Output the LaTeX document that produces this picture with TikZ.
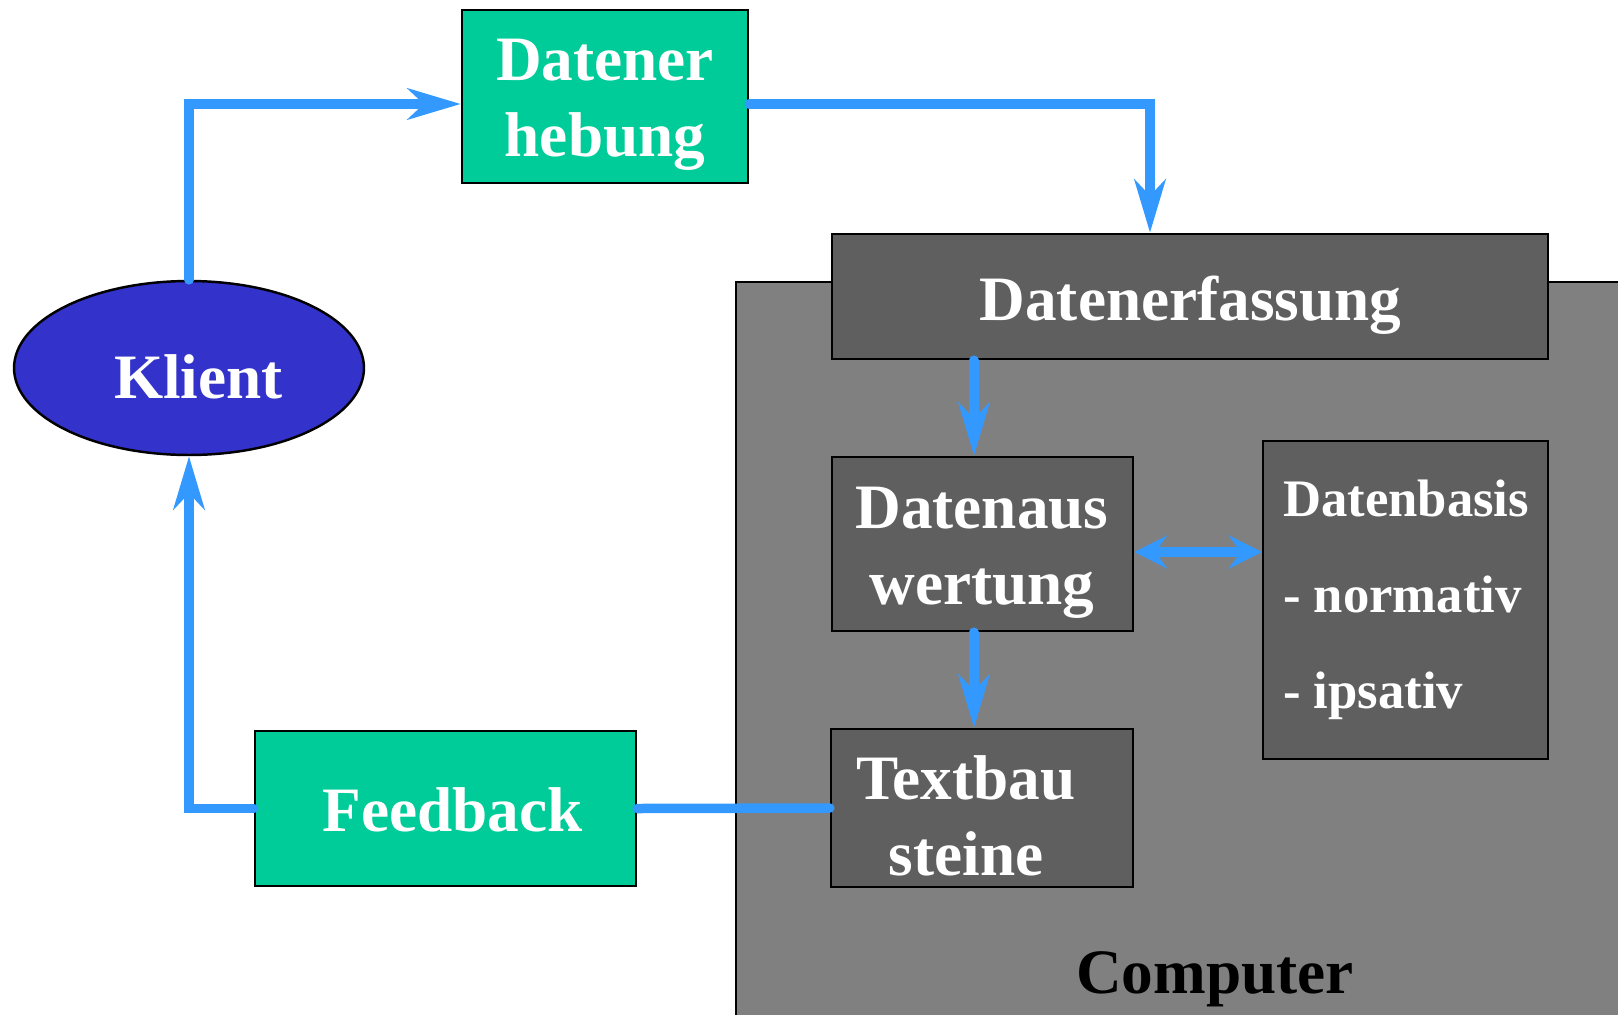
\documentclass[tikz,border=0pt]{standalone}
\usepackage{fontspec}
\setmainfont{Liberation Serif}
\usetikzlibrary{arrows.meta,shapes.geometric,calc}
\definecolor{boxgreen}{RGB}{0,204,153}
\definecolor{boxdark}{RGB}{95,95,95}
\definecolor{compgray}{RGB}{128,128,128}
\definecolor{klientblue}{RGB}{51,51,204}
\definecolor{flowblue}{RGB}{51,153,255}
\begin{document}
\begin{tikzpicture}[x=0.02cm, y=-0.02cm,
  flow/.style={draw=flowblue, line width=0.19cm, line cap=round},
  tipped/.style={-{Stealth[length=1.06cm,width=0.62cm,inset=0.32cm]}},
  bothtipped/.style={{Stealth[length=0.66cm,width=0.66cm,inset=0.24cm]}-{Stealth[length=0.66cm,width=0.66cm,inset=0.24cm]}},
  greenbox/.style={draw=black, line width=1.4pt, fill=boxgreen, inner sep=0pt},
  darkbox/.style={draw=black, line width=1.4pt, fill=boxdark, inner sep=0pt},
  compbox/.style={draw=black, line width=1.4pt, fill=compgray, inner sep=0pt},
  klientshape/.style={ellipse, draw=black, line width=1.4pt, fill=klientblue, inner sep=0pt},
  lbl/.style={text=white, font=\fontsize{36}{43.5}\selectfont\bfseries, inner sep=0pt, anchor=base},
  smalllbl/.style={text=white, font=\fontsize{30}{54.7}\selectfont\bfseries, inner sep=0pt, anchor=base west},
]
\path[use as bounding box] (0,0) rectangle (1618,1014);

% computer container (clipped at the picture edge)
\begin{scope}
  \clip (0,0) rectangle (1618,1014);
  \node[compbox, anchor=north west, minimum width=19.3cm, minimum height=16.4cm] (computer) at (735,281) {};
\end{scope}

% boxes
\node[greenbox, minimum width=5.72cm, minimum height=3.46cm] (erheb) at (605,96.5) {};
\node[darkbox, minimum width=14.32cm, minimum height=2.5cm] (erfass) at (1190,296.5) {};
\node[klientshape, minimum width=7cm, minimum height=3.48cm] (klient) at (189,368) {};
\node[darkbox, minimum width=6.02cm, minimum height=3.48cm] (auswert) at (982.5,544) {};
\node[darkbox, minimum width=5.7cm, minimum height=6.36cm] (basis) at (1405.5,600) {};
\node[darkbox, minimum width=6.04cm, minimum height=3.16cm] (textbau) at (982,808) {};
\node[greenbox, minimum width=7.62cm, minimum height=3.1cm] (feedback) at (445.5,808.5) {};

% labels
\node[lbl] (erheb-t) at (605,80) {\begin{tabular}[t]{@{}c@{}}Datener\\hebung\end{tabular}};
\node[lbl] (erfass-t) at (1190.5,320) {Datenerfassung};
\node[lbl] (klient-t) at (198.5,398) {Klient};
\node[lbl] (auswert-t) at (982,528.3) {\begin{tabular}[t]{@{}c@{}}Datenaus\\wertung\end{tabular}};
\node[lbl] (textbau-t) at (966,799.3) {\begin{tabular}[t]{@{}c@{}}Textbau\\steine\end{tabular}};
\node[lbl] (feedback-t) at (452.7,831.7) {Feedback};
\node[smalllbl] (basis-t) at (1282.7,516.7) {\begin{tabular}[t]{@{}l@{}}Datenbasis\\- normativ\\- ipsativ\end{tabular}};
\node[lbl, text=black] (computer-t) at (1215,993.3) {Computer};

% connectors
\coordinate (b1) at (189,104);
\coordinate (b2) at (1150,104);
\coordinate (b3) at (974,0);
\coordinate (b4) at (0,552);
\draw[flow, tipped] (klient.north) -- (b1) -- (b1 -| erheb.west);
\draw[flow, tipped] (b1 -| erheb.east) -- (b2) -- (b2 |- erfass.north);
\draw[flow, tipped] (b3 |- erfass.south) -- (b3 |- auswert.north);
\draw[flow, tipped] (b3 |- auswert.south) -- (b3 |- textbau.north);
\draw[flow, bothtipped] (b4 -| auswert.east) -- (b4 -| basis.west);
\draw[flow] (feedback.east) -- (textbau.west);
\draw[flow, tipped] (feedback.west) -| (klient.south);
\end{tikzpicture}
\end{document}
